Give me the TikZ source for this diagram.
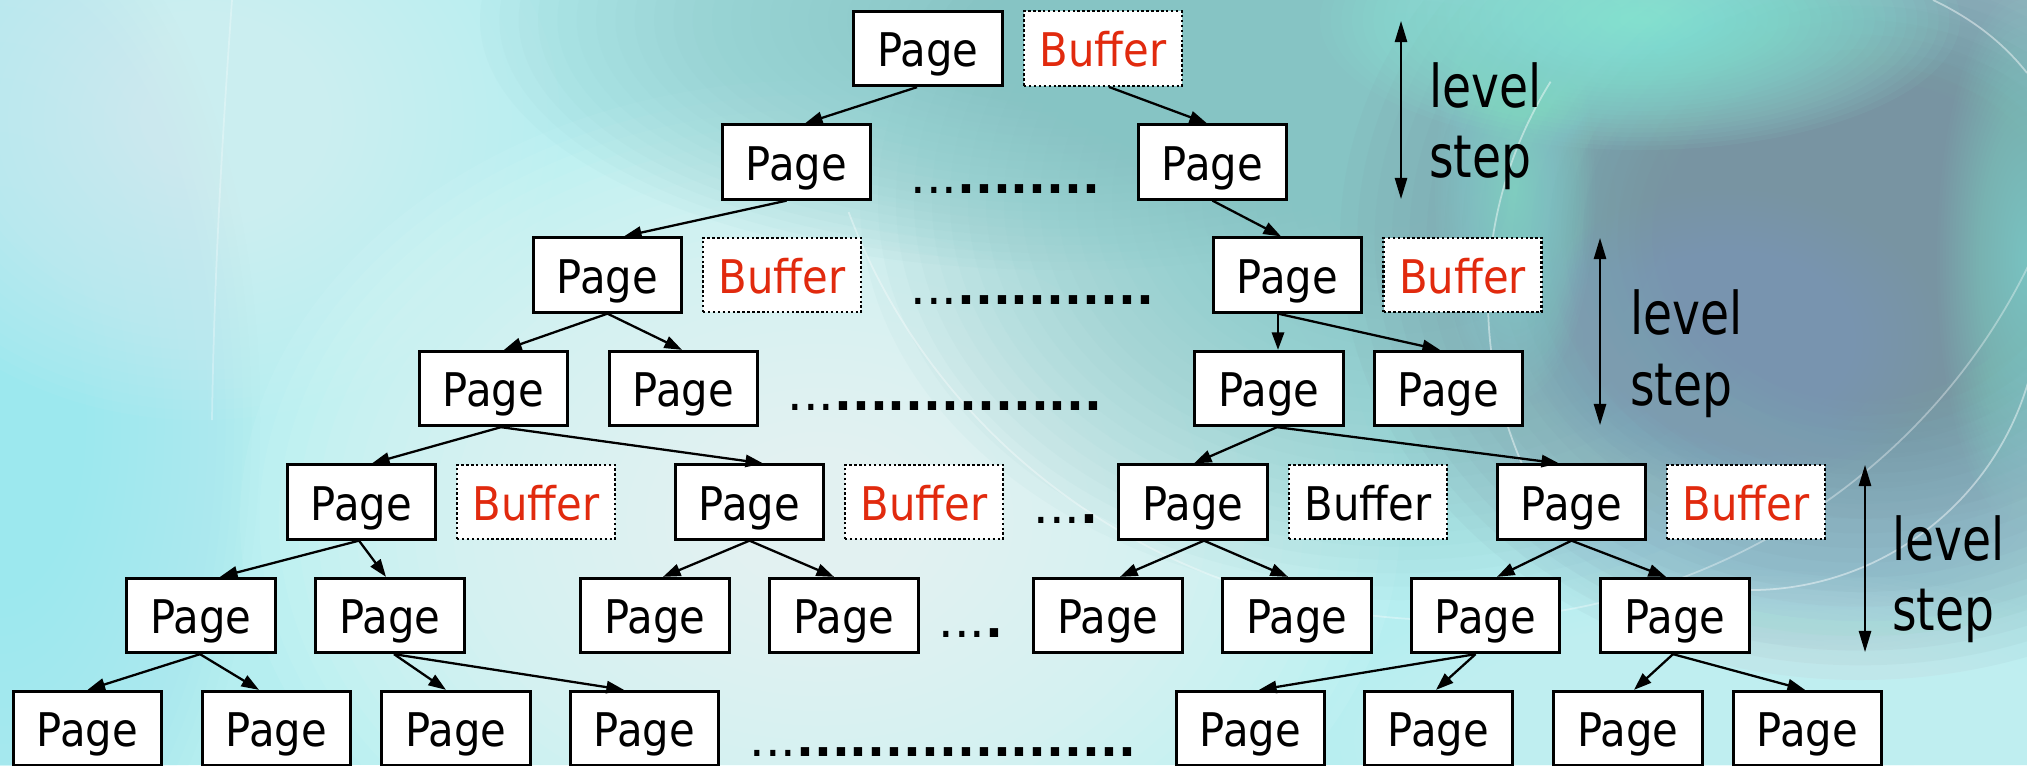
\documentclass[tikz,border=0pt]{standalone}
\usepackage{fontspec}
\setmainfont{DejaVu Sans}[FakeStretch=0.9]
\newfontfamily\lvfont{DejaVu Sans}[FakeStretch=0.8]
\newfontfamily\dotfont{DejaVu Sans}
\usetikzlibrary{arrows.meta}

\definecolor{bufred}{HTML}{E12A0E}
\definecolor{bgbase}{HTML}{B6EEF0}
\definecolor{bgteal}{HTML}{86C4C4}
\definecolor{bgdark}{HTML}{7894A2}
\definecolor{bgblue}{HTML}{7C9CC8}
\definecolor{bgmint}{HTML}{8EF0DE}
\definecolor{bgcyan}{HTML}{9CE8EE}
\definecolor{bglight}{HTML}{F0FFFF}
\definecolor{bgsky}{HTML}{A6DEEC}
\colorlet{bgpale}{white!55!bgbase}

\tikzset{
  pagebox/.style={draw=black, line width=1.6pt, fill=white,
    minimum width=2.97cm, minimum height=1.49cm, inner sep=0pt,
    text height=22pt, text depth=1pt, font=\fontsize{26.4}{30}\selectfont},
  bufbox/.style={pagebox, line width=1.4pt, dash pattern=on 1.4pt off 1.4pt,
    minimum width=3.16cm, text=bufred},
  bufboxk/.style={bufbox, text=black},
  link/.style={line width=1.3pt, -{Triangle[length=10pt,width=7pt]}},
  levelarrow/.style={line width=1pt,
    {Triangle[length=12pt,width=7pt]}-{Triangle[length=12pt,width=7pt]}},
  dotrow/.style={anchor=base west, inner sep=0pt, text depth=0pt, font=\dotfont},
  steplabel/.style={anchor=base west, inner sep=0pt,
    font=\lvfont\fontsize{33.6}{40}\selectfont},
  streak/.style={white, line width=1pt, opacity=0.45},
}

\newcommand{\smalldots}{{\fontsize{28}{30}\selectfont...}}
\newcommand{\bigdots}[1]{{\bfseries\fontsize{26.8}{30}\selectfont#1}}
% soft glow: stacked translucent ellipses (colour, x, y, x radius, y radius, layer opacity)
\newcommand{\softglow}[6]{%
  \foreach \k in {1,...,30}{%
    \fill[#1, opacity=#6] (#2,#3) ellipse [x radius={#4/30*\k}, y radius={#5/30*\k}];}}

\begin{document}
\begin{tikzpicture}[x=0.02cm, y=-0.02cm]
\useasboundingbox (0,0) rectangle (2027,765);

% ---- background ----
\begin{scope}
  \clip (0,0) rectangle (2027,765);
  \fill[bgbase] (0,0) rectangle (2027,765);
  \softglow{bgcyan}{0}{420}{260}{540}{0.06}
  \softglow{bglight}{820}{520}{580}{440}{0.07}
  \softglow{bgpale}{200}{120}{360}{300}{0.05}
  \softglow{bgteal}{1060}{20}{580}{250}{0.06}
  \softglow{bgteal}{1400}{200}{540}{400}{0.06}
  \softglow{bgsky}{1820}{500}{320}{150}{0.04}
  \softglow{bgdark}{1860}{240}{520}{440}{0.07}
  \softglow{bgdark}{1890}{230}{340}{290}{0.04}
  \softglow{bgblue}{1730}{340}{210}{150}{0.04}
  \softglow{bgmint}{1640}{20}{320}{130}{0.06}
  \softglow{bgmint}{1515}{190}{80}{210}{0.03}
  \softglow{bgmint}{2027}{260}{90}{270}{0.03}
  \softglow{bgpale}{1750}{740}{440}{170}{0.03}
  % thin light streaks
  \draw[streak, opacity=0.3] (232,0) .. controls (222,140) and (214,280) .. (212,420);
  \draw[streak, opacity=0.35] (1450,0) ++(160:640 and 620) arc[start angle=160, end angle=20, x radius=640, y radius=620];
  \draw[streak] (1900,300) ++(212:412) arc[start angle=212, end angle=146, radius=412];
  \draw[streak] (1750,300) ++(13:290) arc[start angle=13, end angle=100, radius=290];
  \draw[streak] (1933,0) .. controls (1975,20) and (2005,45) .. (2027,73);
\end{scope}

% ---- level 0 ----
\node[pagebox] (p0) at (928,48.5) {Page};
\node[bufbox]  (b0) at (1103,48.5) {Buffer};

% ---- level 1 ----
\node[pagebox] (p1a) at (796.5,162) {Page};
\node[pagebox] (p1b) at (1212.5,162) {Page};

% ---- level 2 ----
\node[pagebox] (p2a) at (607.5,275) {Page};
\node[bufbox]  (b2a) at (782,275) {Buffer};
\node[pagebox] (p2b) at (1287.5,275) {Page};
\node[bufbox]  (b2b) at (1462.5,275) {Buffer};

% ---- level 3 ----
\node[pagebox] (p3a) at (493.5,388.5) {Page};
\node[pagebox] (p3b) at (683.5,388.5) {Page};
\node[pagebox] (p3c) at (1269,388.5) {Page};
\node[pagebox] (p3d) at (1448.5,388.5) {Page};

% ---- level 4 ----
\node[pagebox] (p4a) at (361.5,502) {Page};
\node[bufbox]  (b4a) at (536,502) {Buffer};
\node[pagebox] (p4b) at (749.5,502) {Page};
\node[bufbox]  (b4b) at (924,502) {Buffer};
\node[pagebox] (p4c) at (1193,502) {Page};
\node[bufboxk] (b4c) at (1368,502) {Buffer};
\node[pagebox] (p4d) at (1571.5,502) {Page};
\node[bufbox]  (b4d) at (1746,502) {Buffer};

% ---- level 5 ----
\node[pagebox] (p5a) at (201,615.5) {Page};
\node[pagebox] (p5b) at (390,615.5) {Page};
\node[pagebox] (p5c) at (655,615.5) {Page};
\node[pagebox] (p5d) at (844,615.5) {Page};
\node[pagebox] (p5e) at (1108,615.5) {Page};
\node[pagebox] (p5f) at (1297,615.5) {Page};
\node[pagebox] (p5g) at (1485.5,615.5) {Page};
\node[pagebox] (p5h) at (1675,615.5) {Page};

% ---- level 6 ----
\node[pagebox] (p6a) at (87.5,728.5) {Page};
\node[pagebox] (p6b) at (276.5,728.5) {Page};
\node[pagebox] (p6c) at (456,728.5) {Page};
\node[pagebox] (p6d) at (644.5,728.5) {Page};
\node[pagebox] (p6e) at (1250.5,728.5) {Page};
\node[pagebox] (p6f) at (1438.5,728.5) {Page};
\node[pagebox] (p6g) at (1628,728.5) {Page};
\node[pagebox] (p6h) at (1807.5,728.5) {Page};

% ---- elision dots ----
\node[dotrow] (d1) at (910,193) {\smalldots\bigdots{........}};
\node[dotrow] (d2) at (910,304) {\smalldots\bigdots{...........}};
\node[dotrow] (d3) at (787,410) {\smalldots\bigdots{...............}};
\node[dotrow] (d4) at (1033,523) {\smalldots\bigdots{.}};
\node[dotrow] (d5) at (938,637) {\smalldots\bigdots{.}};
\node[dotrow] (d6) at (749,756) {\smalldots\bigdots{...................}};

% ---- tree links ----
\draw[link] ([shift={(-11,0)}]p0.south)  -- ([shift={(8.5,0)}]p1a.north);
\draw[link] ([shift={(6,0)}]b0.south)    -- ([shift={(-5.5,0)}]p1b.north);
\draw[link] ([shift={(-10,0)}]p1a.south) -- ([shift={(16.5,0)}]p2a.north);
\draw[link] (p1b.south)                  -- ([shift={(-6.5,0)}]p2b.north);
\draw[link] (p2a.south) -- ([shift={(10.5,0)}]p3a.north);
\draw[link] (p2a.south) -- ([shift={(-1.5,0)}]p3b.north);
\draw[link] ([shift={(-9.5,0)}]p2b.south) -- ([shift={(9,0)}]p3c.north);
\draw[link] ([shift={(-9.5,0)}]p2b.south) -- ([shift={(-8.5,0)}]p3d.north);
\draw[link] ([shift={(7.5,0)}]p3a.south) -- ([shift={(10.5,0)}]p4a.north);
\draw[link] ([shift={(7.5,0)}]p3a.south) -- ([shift={(13.5,0)}]p4b.north);
\draw[link] ([shift={(8,0)}]p3c.south)   -- ([shift={(1,0)}]p4c.north);
\draw[link] ([shift={(8,0)}]p3c.south)   -- ([shift={(-12.5,0)}]p4d.north);
\draw[link] ([shift={(-2.5,0)}]p4a.south) -- ([shift={(19,0)}]p5a.north);
\draw[link] ([shift={(-2.5,0)}]p4a.south) -- ([shift={(-4,0)}]p5b.north);
\draw[link] (p4b.south) -- ([shift={(8,0)}]p5c.north);
\draw[link] (p4b.south) -- ([shift={(-10,0)}]p5d.north);
\draw[link] ([shift={(11,0)}]p4c.south) -- ([shift={(12,0)}]p5e.north);
\draw[link] ([shift={(11,0)}]p4c.south) -- ([shift={(-9,0)}]p5f.north);
\draw[link] (p4d.south) -- ([shift={(11.5,0)}]p5g.north);
\draw[link] (p4d.south) -- ([shift={(-9,0)}]p5h.north);
\draw[link] ([shift={(-1,0)}]p5a.south) -- (p6a.north);
\draw[link] ([shift={(-1,0)}]p5a.south) -- ([shift={(-17.5,0)}]p6b.north);
\draw[link] ([shift={(4,0)}]p5b.south)  -- ([shift={(-10,0)}]p6c.north);
\draw[link] ([shift={(4,0)}]p5b.south)  -- ([shift={(-20.5,0)}]p6d.north);
\draw[link] ([shift={(-10,0)}]p5g.south) -- ([shift={(8.5,0)}]p6e.north);
\draw[link] ([shift={(-10,0)}]p5g.south) -- ([shift={(-2.5,0)}]p6f.north);
\draw[link] ([shift={(-2,0)}]p5h.south)  -- ([shift={(6,0)}]p6g.north);
\draw[link] ([shift={(-2,0)}]p5h.south)  -- ([shift={(-2.5,0)}]p6h.north);

% ---- level step markers ----
\coordinate (s1t) at (1401,21);  \coordinate (s1b) at (1401,199);
\coordinate (s2t) at (1600,238); \coordinate (s2b) at (1600,425);
\coordinate (s3t) at (1865,465); \coordinate (s3b) at (1865,652);
\draw[levelarrow] (s1t) -- (s1b);
\draw[levelarrow] (s2t) -- (s2b);
\draw[levelarrow] (s3t) -- (s3b);
\node[steplabel] (lv1) at (1429,107) {level};
\node[steplabel] (st1) at (1429,177) {step};
\node[steplabel] (lv2) at (1630,334) {level};
\node[steplabel] (st2) at (1630,405) {step};
\node[steplabel] (lv3) at (1892,560) {level};
\node[steplabel] (st3) at (1892,630) {step};
\end{tikzpicture}
\end{document}
